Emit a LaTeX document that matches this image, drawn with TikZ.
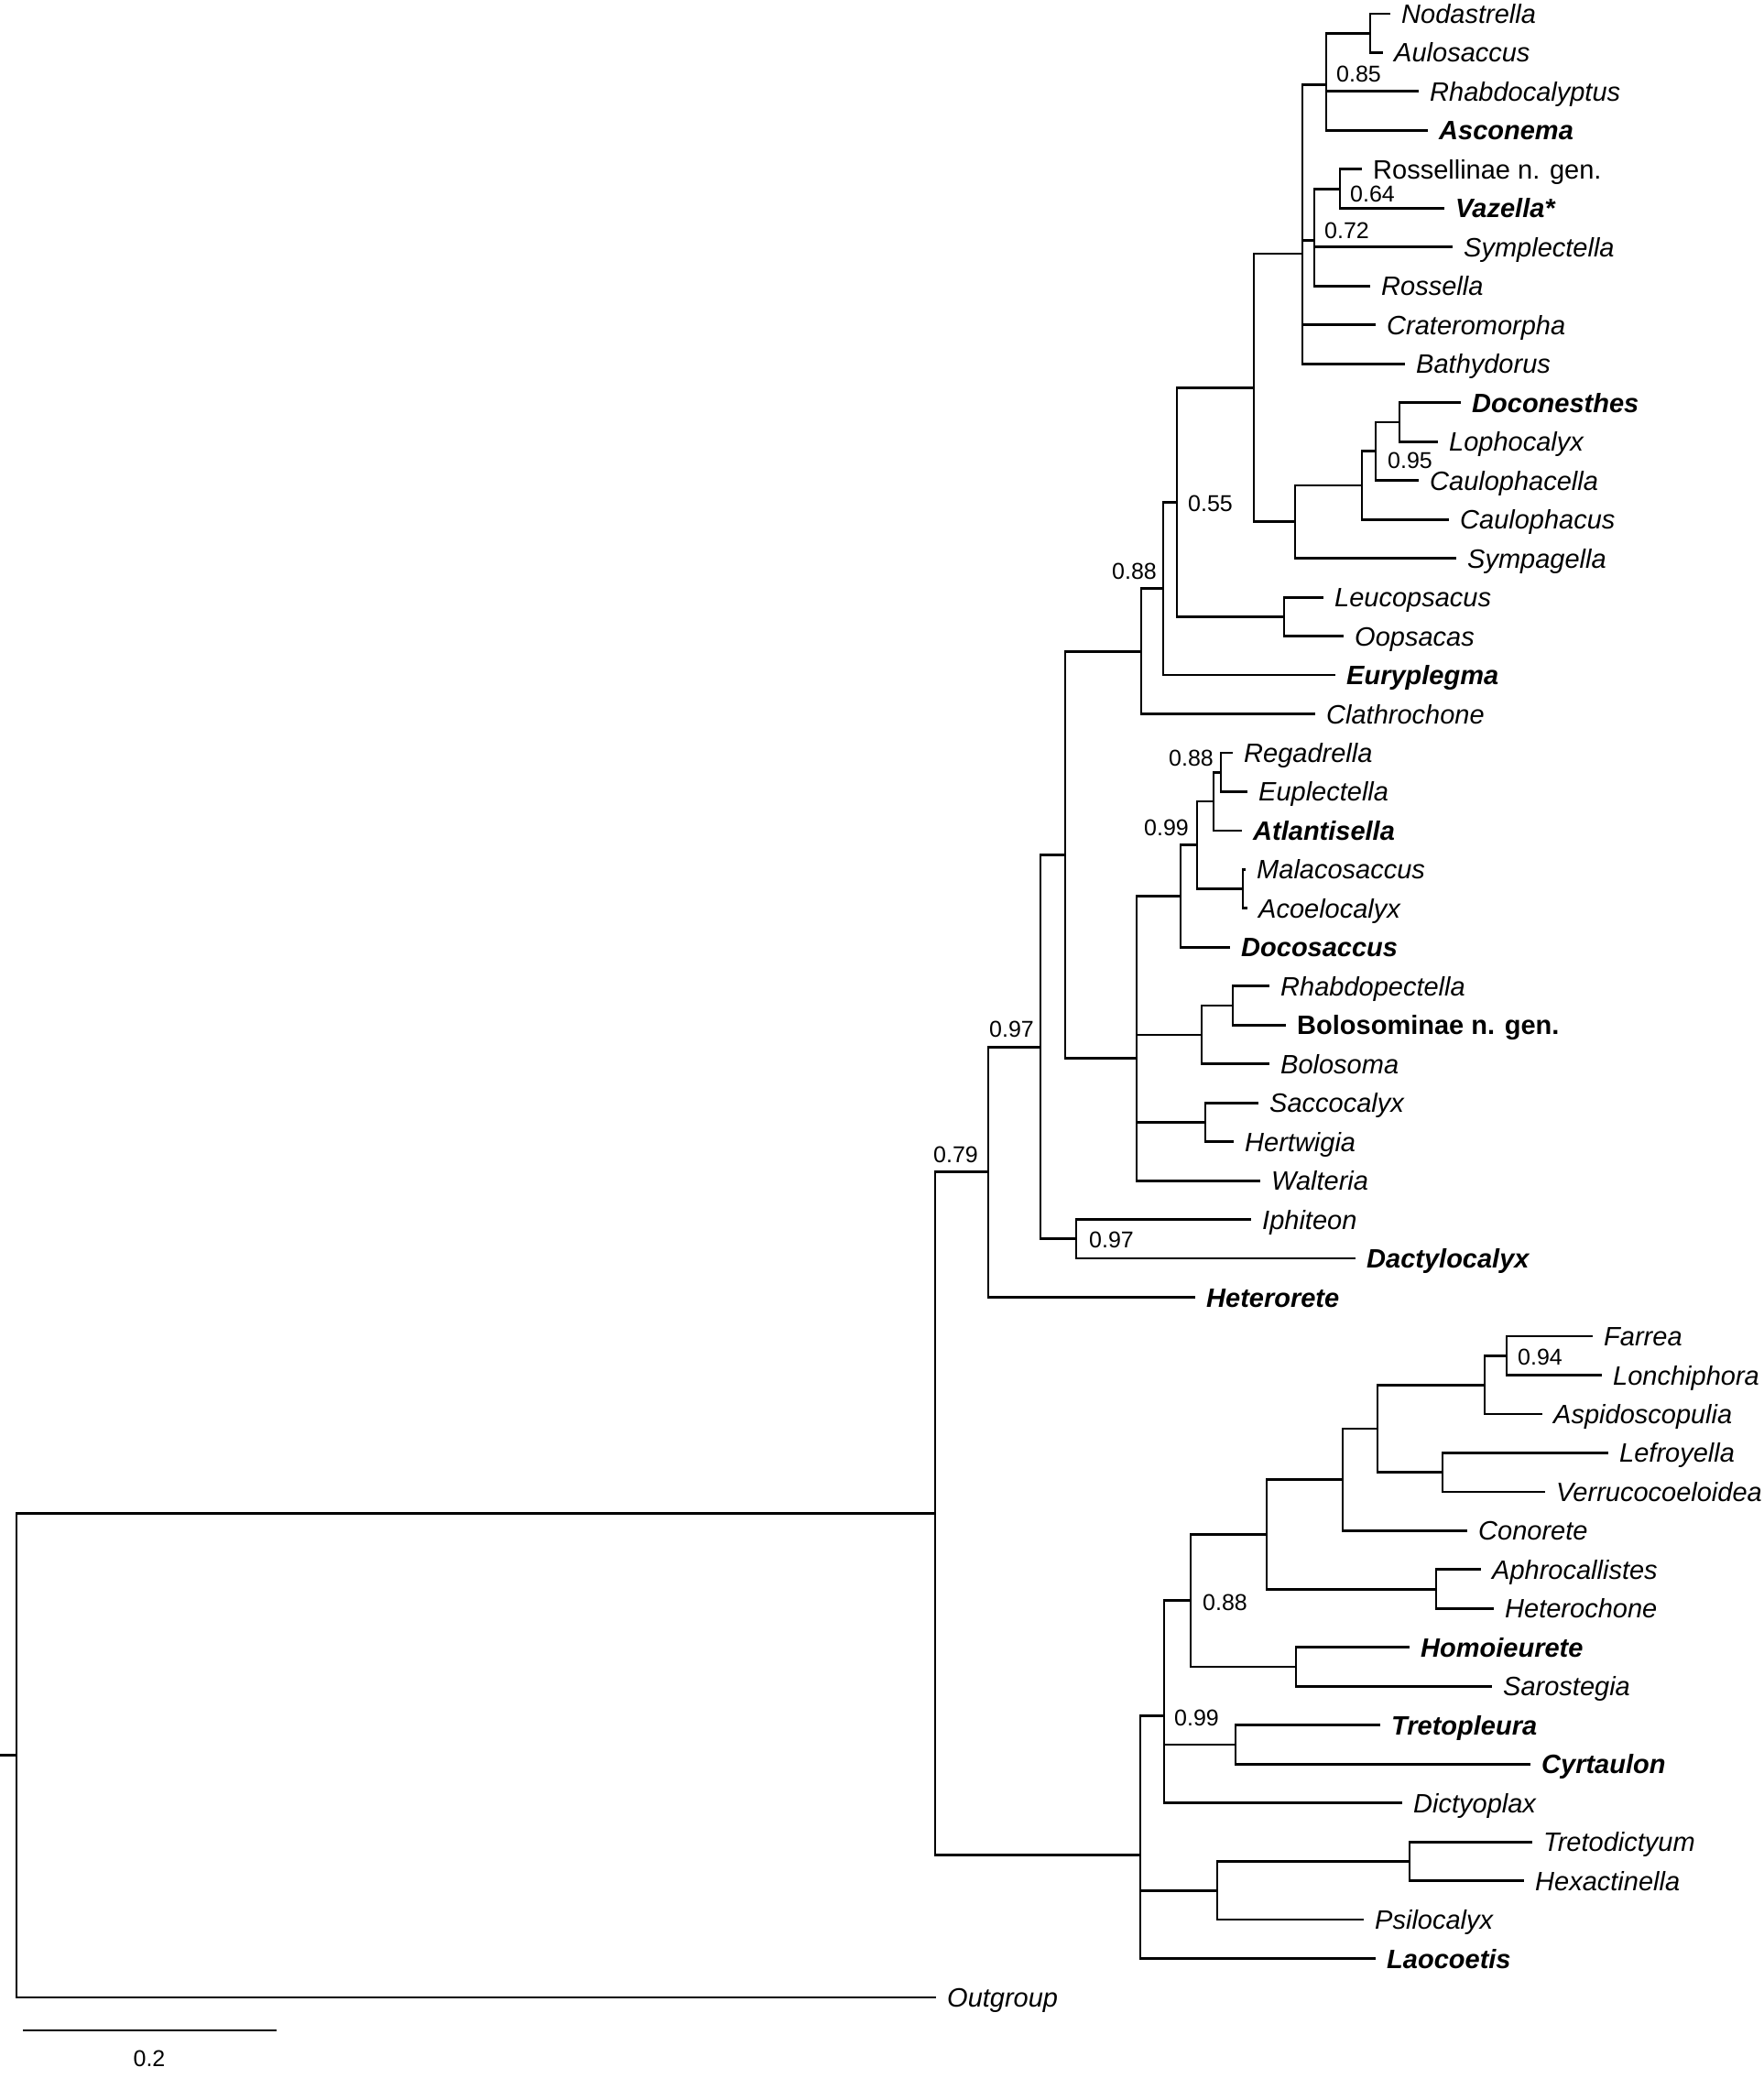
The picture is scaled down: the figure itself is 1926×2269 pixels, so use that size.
\documentclass[tikz,border=0pt]{standalone}
\usepackage{fontspec}
\setmainfont{Liberation Sans}
\begin{document}
\begin{tikzpicture}[x=1pt,y=-1pt,line join=miter]
\useasboundingbox (0,0) rectangle (1926,2269);
\path[fill=white] (0,0) rectangle (1926,2269);
\tikzset{branch/.style={draw=black,line width=2.8pt},taxon/.style={anchor=west,inner xsep=12pt,inner ysep=0pt,text height=21pt,text depth=0pt,font=\fontsize{29}{34}\selectfont\itshape},taxonbold/.style={taxon,font=\fontsize{29}{34}\selectfont\bfseries\itshape},taxonup/.style={taxon,font=\fontsize{29}{34}\selectfont},taxonupbold/.style={taxon,font=\fontsize{29}{34}\selectfont\bfseries},support/.style={inner sep=0pt,text height=18pt,text depth=0pt,font=\fontsize{25}{30}\selectfont}}
% taxa (tip of branch = west anchor)
\node[taxon] (nod) at (1518,15) {Nodastrella}; \node[taxon] (aul) at (1510,57.5) {Aulosaccus}; \node[taxon] (rhb) at (1549,99.9) {Rhabdocalyptus}; \node[taxonbold] (asc) at (1559,142.4) {Asconema};
\node[taxonup] (rng) at (1487,184.9) {Rossellinae n. gen.}; \node[taxonbold] (vaz) at (1577,227.4) {Vazella*}; \node[taxon] (sym) at (1586,269.8) {Symplectella}; \node[taxon] (ros) at (1496,312.3) {Rossella};
\node[taxon] (cra) at (1502,354.8) {Crateromorpha}; \node[taxon] (bat) at (1534,397.2) {Bathydorus};
\node[taxonbold] (doc) at (1595,439.7) {Doconesthes}; \node[taxon] (lop) at (1570,482.2) {Lophocalyx}; \node[taxon] (cph) at (1549,524.6) {Caulophacella}; \node[taxon] (cau) at (1582,567.1) {Caulophacus}; \node[taxon] (spg) at (1590,609.6) {Sympagella};
\node[taxon] (leu) at (1445,652.1) {Leucopsacus}; \node[taxon] (oop) at (1467,694.5) {Oopsacas}; \node[taxonbold] (eur) at (1458,737) {Euryplegma}; \node[taxon] (cla) at (1436,779.5) {Clathrochone};
\node[taxon] (reg) at (1346,821.9) {Regadrella}; \node[taxon] (eup) at (1362,864.4) {Euplectella}; \node[taxonbold] (atl) at (1356,906.9) {Atlantisella}; \node[taxon] (mal) at (1360,949.3) {Malacosaccus}; \node[taxon] (aco) at (1362,991.8) {Acoelocalyx}; \node[taxonbold] (dcs) at (1343,1034.3) {Docosaccus};
\node[taxon] (rpc) at (1386,1076.8) {Rhabdopectella}; \node[taxonupbold] (bng) at (1404,1119.2) {Bolosominae n. gen.}; \node[taxon] (bol) at (1386,1161.7) {Bolosoma};
\node[taxon] (sac) at (1374,1204.2) {Saccocalyx}; \node[taxon] (her) at (1347,1246.6) {Hertwigia}; \node[taxon] (wal) at (1376,1289.1) {Walteria}; \node[taxon] (iph) at (1366,1331.6) {Iphiteon}; \node[taxonbold] (dac) at (1480,1374) {Dactylocalyx}; \node[taxonbold] (htr) at (1305,1416.5) {Heterorete};
\node[taxon] (far) at (1739,1459) {Farrea}; \node[taxon] (lon) at (1749,1501.5) {Lonchiphora}; \node[taxon] (asp) at (1684,1543.9) {Aspidoscopulia}; \node[taxon] (lef) at (1756,1586.4) {Lefroyella}; \node[taxon] (ver) at (1687,1628.9) {Verrucocoeloidea}; \node[taxon] (con) at (1602,1671.3) {Conorete};
\node[taxon] (aph) at (1617,1713.8) {Aphrocallistes}; \node[taxon] (hch) at (1631,1756.3) {Heterochone}; \node[taxonbold] (hom) at (1539,1798.7) {Homoieurete}; \node[taxon] (sar) at (1629,1841.2) {Sarostegia};
\node[taxonbold] (trp) at (1507,1883.7) {Tretopleura}; \node[taxonbold] (cyr) at (1671,1926.2) {Cyrtaulon}; \node[taxon] (dic) at (1531,1968.6) {Dictyoplax}; \node[taxon] (trd) at (1673,2011.1) {Tretodictyum}; \node[taxon] (hex) at (1664,2053.6) {Hexactinella}; \node[taxon] (psi) at (1489,2096) {Psilocalyx}; \node[taxonbold] (lao) at (1502,2138.5) {Laocoetis};
\node[taxon] (out) at (1022,2181) {Outgroup};
% internal nodes
\coordinate (nodaul) at (1496,36.3); \coordinate (rhabcl) at (1448,92.9); \coordinate (rosvaz) at (1463,206.2); \coordinate (rosscl) at (1435,262.8); \coordinate (rossel) at (1422,276.9);
\coordinate (doclop) at (1528,461); \coordinate (caucla) at (1502,492.8); \coordinate (cauclb) at (1487,530); \coordinate (lanucl) at (1414,569.8); \coordinate (rosgrp) at (1369,423.4);
\coordinate (leuoop) at (1402,673.3); \coordinate (lyssa) at (1285,548.3); \coordinate (lyssb) at (1270,642.7); \coordinate (lyssc) at (1246,711.1);
\coordinate (regeup) at (1333,843.2); \coordinate (eupcla) at (1325,875); \coordinate (malaco) at (1357,970.6); \coordinate (eupclb) at (1307,922.8); \coordinate (eupclc) at (1289,978.6);
\coordinate (rhabol) at (1346,1098); \coordinate (bolcl) at (1312,1129.9); \coordinate (sachert) at (1316,1225.4); \coordinate (euplgrp) at (1241,1155.7);
\coordinate (lyssall) at (1163,933.4); \coordinate (iphdac) at (1175,1352.8); \coordinate (lysdac) at (1136,1143.1); \coordinate (lysset) at (1079,1279.8);
\coordinate (farlon) at (1645,1480.3); \coordinate (farcla) at (1621,1512.1); \coordinate (lefver) at (1575,1607.7); \coordinate (farclb) at (1504,1559.9); \coordinate (farclc) at (1466,1615.6);
\coordinate (aphhet) at (1568,1735.1); \coordinate (aulcl) at (1383,1675.4); \coordinate (homsar) at (1415,1820); \coordinate (sceptr) at (1300,1747.7); \coordinate (tretcy) at (1349,1905); \coordinate (hexcl) at (1271,1873.8);
\coordinate (tredhex) at (1539,2032.4); \coordinate (tredcl) at (1329,2064.2); \coordinate (hexact) at (1245,2025.5);
\coordinate (ingroup) at (1021,1652.7); \coordinate (root) at (18,1916.8); \coordinate (stub) at (0,1916.8);
% branches
\draw[branch] (nodaul) |- (nod) (nodaul) |- (aul); \draw[branch] (rhabcl) |- (nodaul) (rhabcl) |- (rhb) (rhabcl) |- (asc);
\draw[branch] (rosvaz) |- (rng) (rosvaz) |- (vaz); \draw[branch] (rosscl) |- (rosvaz) (rosscl) |- (sym) (rosscl) |- (ros);
\draw[branch] (rossel) |- (rhabcl) (rossel) |- (rosscl) (rossel) |- (cra) (rossel) |- (bat);
\draw[branch] (doclop) |- (doc) (doclop) |- (lop); \draw[branch] (caucla) |- (doclop) (caucla) |- (cph); \draw[branch] (cauclb) |- (caucla) (cauclb) |- (cau); \draw[branch] (lanucl) |- (cauclb) (lanucl) |- (spg);
\draw[branch] (rosgrp) |- (rossel) (rosgrp) |- (lanucl); \draw[branch] (leuoop) |- (leu) (leuoop) |- (oop);
\draw[branch] (lyssa) |- (rosgrp) (lyssa) |- (leuoop); \draw[branch] (lyssb) |- (lyssa) (lyssb) |- (eur); \draw[branch] (lyssc) |- (lyssb) (lyssc) |- (cla);
\draw[branch] (regeup) |- (reg) (regeup) |- (eup); \draw[branch] (eupcla) |- (regeup) (eupcla) |- (atl); \draw[branch] (malaco) |- (mal) (malaco) |- (aco);
\draw[branch] (eupclb) |- (eupcla) (eupclb) |- (malaco); \draw[branch] (eupclc) |- (eupclb) (eupclc) |- (dcs);
\draw[branch] (rhabol) |- (rpc) (rhabol) |- (bng); \draw[branch] (bolcl) |- (rhabol) (bolcl) |- (bol); \draw[branch] (sachert) |- (sac) (sachert) |- (her);
\draw[branch] (euplgrp) |- (eupclc) (euplgrp) |- (bolcl) (euplgrp) |- (sachert) (euplgrp) |- (wal);
\draw[branch] (lyssall) |- (lyssc) (lyssall) |- (euplgrp); \draw[branch] (iphdac) |- (iph) (iphdac) |- (dac);
\draw[branch] (lysdac) |- (lyssall) (lysdac) |- (iphdac); \draw[branch] (lysset) |- (lysdac) (lysset) |- (htr);
\draw[branch] (farlon) |- (far) (farlon) |- (lon); \draw[branch] (farcla) |- (farlon) (farcla) |- (asp); \draw[branch] (lefver) |- (lef) (lefver) |- (ver);
\draw[branch] (farclb) |- (farcla) (farclb) |- (lefver); \draw[branch] (farclc) |- (farclb) (farclc) |- (con); \draw[branch] (aphhet) |- (aph) (aphhet) |- (hch);
\draw[branch] (aulcl) |- (farclc) (aulcl) |- (aphhet); \draw[branch] (homsar) |- (hom) (homsar) |- (sar); \draw[branch] (sceptr) |- (aulcl) (sceptr) |- (homsar);
\draw[branch] (tretcy) |- (trp) (tretcy) |- (cyr); \draw[branch] (hexcl) |- (sceptr) (hexcl) |- (tretcy) (hexcl) |- (dic);
\draw[branch] (tredhex) |- (trd) (tredhex) |- (hex); \draw[branch] (tredcl) |- (tredhex) (tredcl) |- (psi); \draw[branch] (hexact) |- (hexcl) (hexact) |- (tredcl) (hexact) |- (lao);
\draw[branch] (ingroup) |- (lysset) (ingroup) |- (hexact); \draw[branch] (stub) -- (root) (root) |- (ingroup) (root) |- (out);
% support values
\node[support,anchor=west] (supa) at (1459,81) {0.85}; \node[support,anchor=west] (supb) at (1474,211) {0.64}; \node[support,anchor=west] (supc) at (1446,251) {0.72}; \node[support,anchor=west] (supd) at (1515,502) {0.95};
\node[support,anchor=west] (supe) at (1297,549) {0.55}; \node[support,anchor=east] (supf) at (1263,623) {0.88}; \node[support,anchor=east] (supg) at (1325,827) {0.88}; \node[support,anchor=east] (suph) at (1298,903) {0.99};
\node[support,anchor=east] (supi) at (1129,1123) {0.97}; \node[support,anchor=east] (supj) at (1068,1260) {0.79}; \node[support,anchor=west] (supk) at (1189,1353) {0.97};
\node[support,anchor=west] (supl) at (1657,1481) {0.94}; \node[support,anchor=west] (supm) at (1313,1749) {0.88}; \node[support,anchor=west] (supn) at (1282,1875) {0.99};
% scale bar
\coordinate (barl) at (25,2217); \coordinate (barr) at (302,2217); \draw[branch] (barl) -- (barr); \node[support] (barlab) at (163,2247) {0.2};
\end{tikzpicture}
\end{document}
